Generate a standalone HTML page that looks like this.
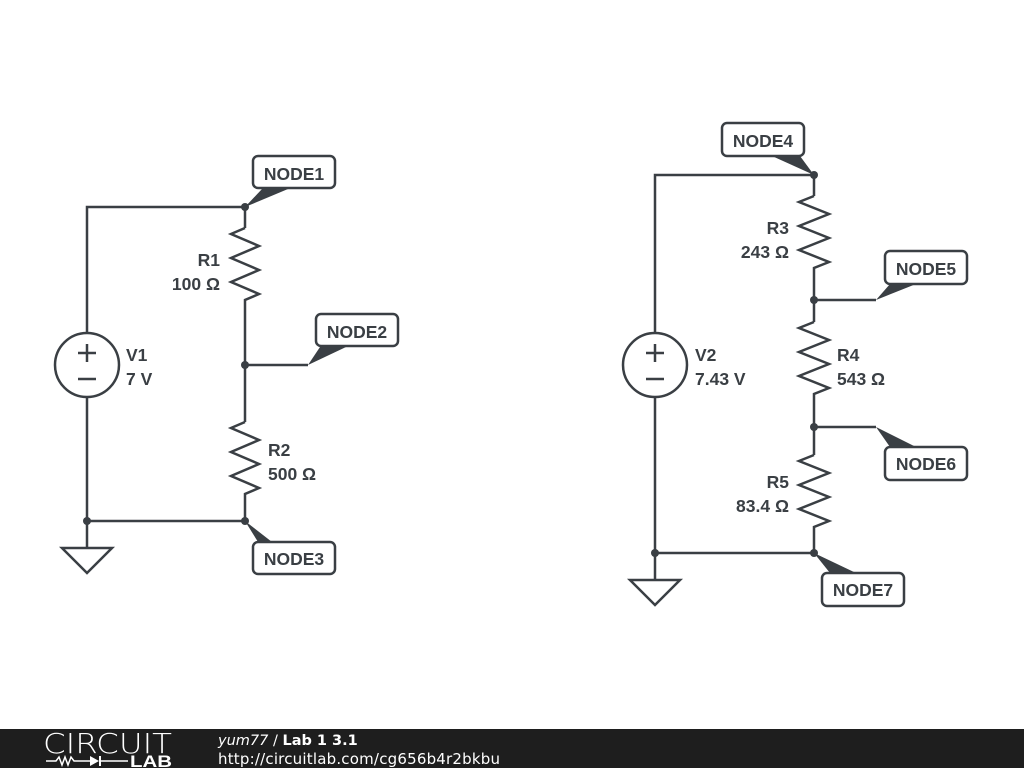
<!DOCTYPE html>
<html><head><meta charset="utf-8"><style>
html,body{margin:0;padding:0;background:#fff;width:1024px;height:768px;overflow:hidden}
svg{display:block}
.t{font-family:"Liberation Sans",sans-serif;font-weight:bold;font-size:17.5px;fill:#3a3f44}
</style></head><body>
<svg width="1024" height="768" viewBox="0 0 1024 768">
<g stroke="#3a3f44" stroke-width="2.5" fill="none">
<polyline points="87,333 87,207 245,207 245,228"/>
<polyline points="245,228 231,234 259,246 231,258 259,270 231,282 259,294 245,300 245,422"/>
<polyline points="245,422 231,428 259,440 231,452 259,464 231,476 259,488 245,494 245,521 87,521 87,397"/>
<line x1="245" y1="365" x2="308" y2="365"/>
<circle cx="87" cy="365" r="32"/>
<line x1="78" y1="353" x2="96" y2="353"/><line x1="87" y1="344" x2="87" y2="362"/>
<line x1="78" y1="379" x2="96" y2="379"/>
<polyline points="87,521 87,548"/>
<polygon points="62,548 112,548 87,573"/>
<polyline points="655,333 655,175 814,175 814,196"/>
<polyline points="814,196 799,202 829,214 799,226 829,238 799,250 829,262 814,268 814,322"/>
<polyline points="814,322 799,328 829,340 799,352 829,364 799,376 829,388 814,394 814,455"/>
<polyline points="814,455 799,461 829,473 799,485 829,497 799,509 829,521 814,527 814,553 655,553 655,397"/>
<line x1="814" y1="300" x2="876" y2="300"/>
<line x1="814" y1="427" x2="876" y2="427"/>
<circle cx="655" cy="365" r="32"/>
<line x1="646" y1="353" x2="664" y2="353"/><line x1="655" y1="344" x2="655" y2="362"/>
<line x1="646" y1="379" x2="664" y2="379"/>
<line x1="655" y1="553" x2="655" y2="580"/>
<polygon points="630,580 680,580 655,605"/>
<rect x="253" y="156" width="82" height="32" rx="5" fill="#fff"/>
<rect x="316" y="314" width="82" height="32" rx="5" fill="#fff"/>
<rect x="253" y="542" width="82" height="32" rx="5" fill="#fff"/>
<rect x="722" y="123" width="82" height="33" rx="5" fill="#fff"/>
<rect x="885" y="251" width="82" height="33" rx="5" fill="#fff"/>
<rect x="885" y="447" width="82" height="33" rx="5" fill="#fff"/>
<rect x="822" y="573" width="82" height="33" rx="5" fill="#fff"/>
</g>
<g fill="#3a3f44">
<circle cx="245" cy="207" r="4"/><circle cx="245" cy="365" r="4"/><circle cx="245" cy="521" r="4"/><circle cx="87" cy="521" r="4"/>
<circle cx="814" cy="175" r="4"/><circle cx="814" cy="300" r="4"/><circle cx="814" cy="427" r="4"/><circle cx="814" cy="553" r="4"/><circle cx="655" cy="553" r="4"/>
<polygon points="245,207 262,189 288,189"/>
<polygon points="308,365 320,347 346,347"/>
<polygon points="245,521 272,542 258,542"/>
<polygon points="814,175 772,156 800,156"/>
<polygon points="876,300 890,284 916,284"/>
<polygon points="876,427 890,447 916,447"/>
<polygon points="814,553 830,573 856,573"/>
</g>
<text class="t" x="294" y="180" text-anchor="middle">NODE1</text>
<text class="t" x="357" y="338" text-anchor="middle">NODE2</text>
<text class="t" x="294" y="565" text-anchor="middle">NODE3</text>
<text class="t" x="763" y="147" text-anchor="middle">NODE4</text>
<text class="t" x="926" y="275" text-anchor="middle">NODE5</text>
<text class="t" x="926" y="470" text-anchor="middle">NODE6</text>
<text class="t" x="863" y="596" text-anchor="middle">NODE7</text>
<text class="t" x="220" y="266" text-anchor="end">R1</text>
<text class="t" x="220" y="290" text-anchor="end">100 Ω</text>
<text class="t" x="268" y="456">R2</text>
<text class="t" x="268" y="480">500 Ω</text>
<text class="t" x="126" y="361">V1</text>
<text class="t" x="126" y="385">7 V</text>
<text class="t" x="789" y="234" text-anchor="end">R3</text>
<text class="t" x="789" y="258" text-anchor="end">243 Ω</text>
<text class="t" x="837" y="361">R4</text>
<text class="t" x="837" y="385">543 Ω</text>
<text class="t" x="789" y="512" text-anchor="end">83.4 Ω</text>
<text class="t" x="789" y="488" text-anchor="end">R5</text>
<text class="t" x="695" y="361">V2</text>
<text class="t" x="695" y="385">7.43 V</text>
<rect x="0" y="729" width="1024" height="39" fill="#1e1e1e"/>
<text x="43" y="753" font-family="'DejaVu Sans',sans-serif" font-size="28" fill="#fff" font-weight="200" textLength="129" lengthAdjust="spacingAndGlyphs">CIRCUIT</text>
<polyline points="46,761 56,761 59,757 62,765 65,757 68,765 71,757 74,761 90,761" stroke="#fff" stroke-width="1.5" fill="none"/>
<polygon points="90,756 90,766 99,761" fill="#fff"/>
<line x1="100" y1="756" x2="100" y2="766" stroke="#fff" stroke-width="2"/>
<line x1="100" y1="761" x2="128" y2="761" stroke="#fff" stroke-width="1.5"/>
<text x="130" y="767" font-family="'Liberation Sans',sans-serif" font-size="17" font-weight="bold" fill="#fff" textLength="42" lengthAdjust="spacingAndGlyphs">LAB</text>
<text x="218" y="745" font-family="'DejaVu Sans',sans-serif" font-size="14.5" fill="#fff"><tspan font-style="italic">yum77</tspan> / <tspan font-weight="bold">Lab 1 3.1</tspan></text>
<text x="218" y="764" font-family="'DejaVu Sans',sans-serif" font-size="15" fill="#fff" textLength="282">http://circuitlab.com/cg656b4r2bkbu</text>
</svg>
</body></html>
